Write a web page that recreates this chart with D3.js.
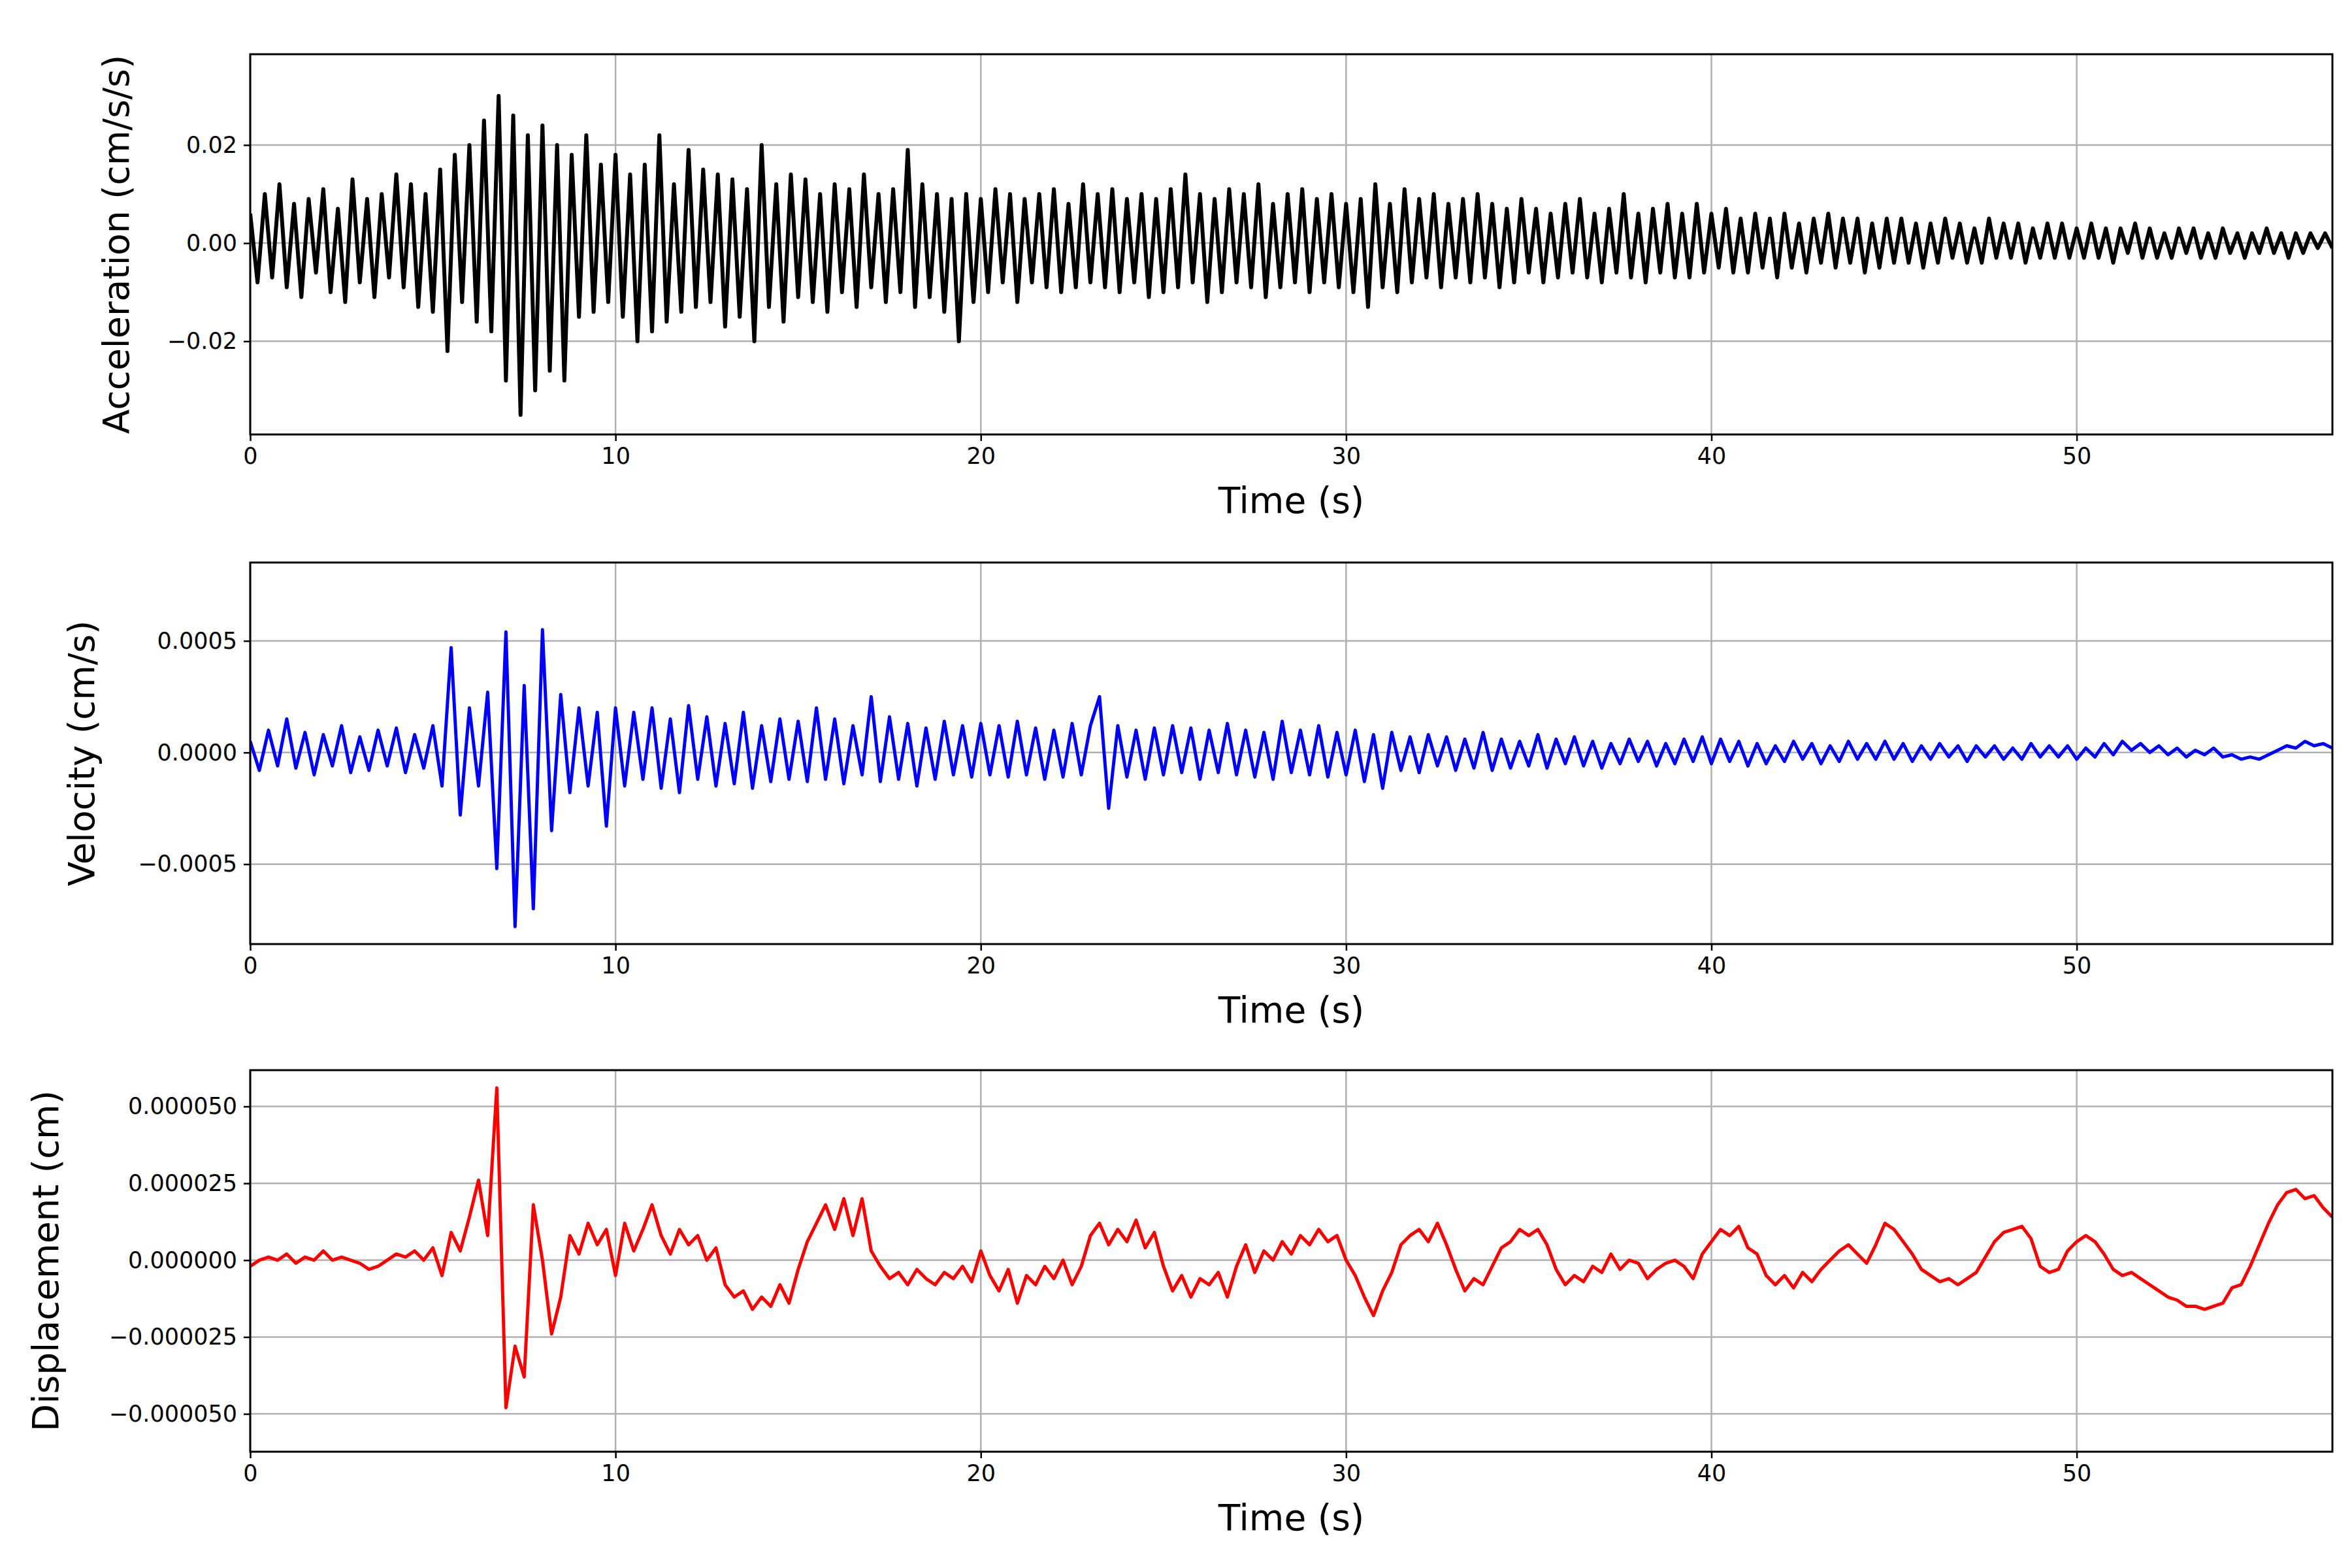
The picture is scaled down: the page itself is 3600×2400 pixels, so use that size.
<!DOCTYPE html>
<html><head><meta charset="utf-8">
<script src="https://cdn.jsdelivr.net/npm/d3@7"></script>
<style>body{margin:0;background:#fff}text{font-family:"DejaVu Sans",sans-serif}</style>
</head><body><main></main>
<script>
// sample steps (s)
const accStep=0.2, velStep=0.25, dispStep=0.25;
// acceleration, units of 0.001 cm/s/s
const accelMilli=[6,-8,10,-7,12,-9,8,-11,9,-6,11,-10,7,-12,13,-8,9,-11,10,-7,14,-9,12,-13,10,
-14,15,-22,18,-12,20,-16,25,-18,30,-28,26,-35,22,-30,24,-26,20,-28,18,-15,22,-14,16,-12,
18,-15,14,-20,16,-18,22,-16,12,-14,19,-13,15,-12,14,-17,13,-15,11,-20,20,-13,12,-16,14,
-11,13,-12,10,-14,12,-10,11,-13,14,-9,10,-12,11,-10,19,-13,12,-11,10,-14,9,-20,10,-12,
9,-10,11,-8,10,-12,9,-8,10,-9,11,-10,8,-9,12,-8,10,-9,11,-10,9,-8,10,-11,9,
-10,11,-9,14,-8,10,-12,9,-10,11,-8,10,-9,12,-11,8,-9,10,-8,11,-10,9,-8,10,-9,
8,-10,9,-13,12,-9,8,-10,11,-8,9,-7,10,-9,8,-7,9,-8,10,-7,8,-9,7,-8,9,
-6,7,-8,6,-7,8,-6,9,-7,6,-8,7,-6,10,-7,6,-8,7,-6,8,-7,6,-7,8,-6,
6,-5,7,-6,5,-6,6,-5,5,-7,6,-5,4,-6,5,-4,6,-5,5,-4,5,-6,4,-5,5,
-4,5,-4,4,-5,4,-4,5,-3,4,-4,3,-4,5,-3,4,-3,4,-4,3,-3,4,-3,4,-3,
3,-3,4,-3,3,-4,3,-2,4,-3,3,-3,2,-3,3,-2,3,-3,2,-3,3,-2,2,-3,2,
-2,3,-2,2,-3,2,-2,2,-1,2,-1];
// velocity, units of 1e-4 cm/s
const velTenK=[0.5,-0.8,1,-0.6,1.5,-0.7,0.9,-1,0.8,-0.6,1.2,-0.9,0.7,-0.8,1,-0.6,1.1,-0.9,0.8,-0.7,
1.2,-1.5,4.7,-2.8,2,-1.5,2.7,-5.2,5.4,-7.8,3,-7,5.5,-3.5,2.6,-1.8,2,-1.5,1.8,-3.3,
2,-1.5,1.8,-1.2,2,-1.6,1.5,-1.8,2.1,-1.2,1.6,-1.5,1.3,-1.4,1.8,-1.6,1.2,-1.3,1.5,-1.2,
1.4,-1.3,2,-1.2,1.5,-1.4,1.2,-1,2.5,-1.3,1.6,-1.2,1.3,-1.5,1.1,-1.2,1.4,-1,1.2,-1.1,
1.3,-1,1.2,-1.1,1.4,-1,1.1,-1.2,1,-1.1,1.3,-1,1.2,2.5,-2.5,1.2,-1.1,1,-1.2,1.1,
-1,1.2,-0.9,1.1,-1.2,1,-0.9,1.3,-1,1,-1.1,0.9,-1.2,1.4,-0.9,1,-1,1.2,-1.1,0.9,
-1,1,-1.3,0.8,-1.6,0.9,-0.8,0.7,-0.9,0.8,-0.6,0.7,-0.8,0.6,-0.7,0.9,-0.8,0.6,-0.7,0.5,
-0.6,0.8,-0.7,0.6,-0.5,0.7,-0.6,0.5,-0.7,0.4,-0.5,0.6,-0.4,0.5,-0.6,0.4,-0.5,0.6,-0.4,0.7,
-0.5,0.6,-0.4,0.5,-0.6,0.4,-0.5,0.3,-0.4,0.5,-0.3,0.4,-0.5,0.3,-0.4,0.5,-0.3,0.4,-0.3,0.5,
-0.3,0.4,-0.4,0.3,-0.3,0.4,-0.2,0.3,-0.4,0.3,-0.2,0.3,-0.3,0.2,-0.3,0.4,-0.2,0.3,-0.2,0.3,
-0.3,0.2,-0.2,0.4,-0.1,0.5,0.1,0.4,0,0.3,-0.1,0.2,-0.2,0.1,-0.1,0.2,-0.2,-0.1,-0.3,-0.2,
-0.3,-0.1,0.1,0.3,0.2,0.5,0.3,0.4,0.2];
// displacement, units of 1e-6 cm
const dispMicro=[-2,0,1,0,2,-1,1,0,3,0,1,0,-1,-3,-2,0,2,1,3,0,
4,-5,9,3,14,26,8,56,-48,-28,-38,18,0,-24,-12,8,2,12,5,10,
-5,12,3,10,18,8,2,10,5,8,0,4,-8,-12,-10,-16,-12,-15,-8,-14,
-3,6,12,18,10,20,8,20,3,-2,-6,-4,-8,-3,-6,-8,-4,-6,-2,-7,
3,-5,-10,-3,-14,-5,-8,-2,-6,0,-8,-2,8,12,5,10,6,13,4,9,
-2,-10,-5,-12,-6,-8,-4,-12,-2,5,-4,3,0,6,2,8,5,10,6,8,
0,-5,-12,-18,-10,-4,5,8,10,6,12,5,-3,-10,-6,-8,-2,4,6,10,
8,10,5,-3,-8,-5,-7,-2,-4,2,-3,0,-1,-6,-3,-1,0,-2,-6,2,
6,10,8,11,4,2,-5,-8,-5,-9,-4,-7,-3,0,3,5,2,-1,5,12,
10,6,2,-3,-5,-7,-6,-8,-6,-4,1,6,9,10,11,7,-2,-4,-3,3,
6,8,6,2,-3,-5,-4,-6,-8,-10,-12,-13,-15,-15,-16,-15,-14,-9,-8,-2,
5,12,18,22,23,20,21,17,14];
const xTicks=[0,10,20,30,40,50];
const accTicks=[-0.02,0,0.02], velTicks=[-0.0005,0,0.0005], dispTicks=[-0.00005,-0.000025,0,0.000025,0.00005];

const W=3600,H=2400, left=383, right=3570;
const panels=[
 {vals:accelMilli.map(v=>v*1e-3),step:accStep,dom:[-0.039,0.0385],ticks:accTicks,fmt:".2f",color:"#000",label:"Acceleration (cm/s/s)",top:83,bottom:665,lx:178},
 {vals:velTenK.map(v=>v*1e-4),step:velStep,dom:[-0.000858,0.000851],ticks:velTicks,fmt:".4f",color:"#0000ff",label:"Velocity (cm/s)",top:861,bottom:1445,lx:125},
 {vals:dispMicro.map(v=>v*1e-6),step:dispStep,dom:[-0.0000623,0.0000618],ticks:dispTicks,fmt:".6f",color:"#ff0000",label:"Displacement (cm)",top:1638,bottom:2222,lx:70}
];
const svg=d3.select('main').append('svg').attr('width',W).attr('height',H);
const x=d3.scaleLinear().domain([0,57]).range([left,right]);
panels.forEach((p,k)=>{
  const y=d3.scaleLinear().domain(p.dom).range([p.bottom,p.top]);
  const g=svg.append('g');
  g.append('clipPath').attr('id','c'+k).append('rect').attr('x',left).attr('y',p.top).attr('width',right-left).attr('height',p.bottom-p.top);
  // grid
  g.selectAll('.gx').data(xTicks).enter().append('line').attr('x1',d=>x(d)).attr('x2',d=>x(d)).attr('y1',p.top).attr('y2',p.bottom).attr('stroke','#b0b0b0').attr('stroke-width',2.5);
  g.selectAll('.gy').data(p.ticks).enter().append('line').attr('y1',d=>y(d)).attr('y2',d=>y(d)).attr('x1',left).attr('x2',right).attr('stroke','#b0b0b0').attr('stroke-width',2.5);
  const line=d3.line().x((d,i)=>x(i*p.step)).y(d=>y(d));
  g.append('path').datum(p.vals).attr('d',line).attr('fill','none').attr('stroke',p.color).attr('stroke-width',k==0?6:5).attr('stroke-linejoin','round').attr('clip-path',`url(#c${k})`);
  const ax=g.append('g').attr('transform',`translate(0,${p.bottom})`).call(d3.axisBottom(x).tickValues(xTicks).tickSize(10).tickSizeOuter(0).tickPadding(10));
  const ay=g.append('g').attr('transform',`translate(${left},0)`).call(d3.axisLeft(y).tickValues(p.ticks).tickFormat(d3.format(p.fmt)).tickSize(10).tickSizeOuter(0).tickPadding(10));
  [ax,ay].forEach(a=>{a.select('.domain').remove();a.selectAll('text').attr('font-size',35).attr('font-family','DejaVu Sans').attr('fill','#000');a.selectAll('line').attr('stroke-width',2.5);});
  g.append('rect').attr('x',left).attr('y',p.top).attr('width',right-left).attr('height',p.bottom-p.top).attr('fill','none').attr('stroke','#000').attr('stroke-width',3);
  g.append('text').attr('x',(left+right)/2).attr('y',p.bottom+120).attr('text-anchor','middle').attr('font-size',55).text('Time (s)');
  g.append('text').attr('transform',`translate(${p.lx},${(p.top+p.bottom)/2}) rotate(-90)`).attr('text-anchor','middle').attr('dominant-baseline','central').attr('font-size',55).text(p.label);
});
</script></body></html>
